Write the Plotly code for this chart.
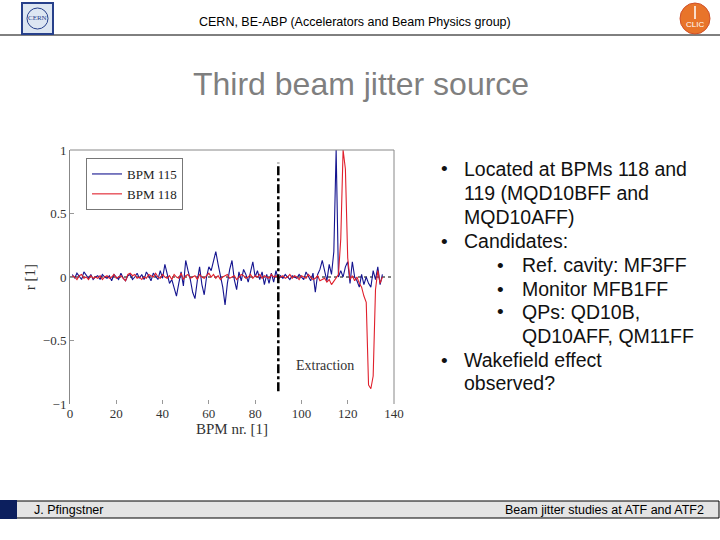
import plotly.graph_objects as go

# ---------------- data ----------------
bpm = list(range(1, 136))

bpm115 = [
    0.02, -0.01, 0.03, 0.00, -0.02, 0.04, 0.01, -0.01, 0.02, -0.02,
    0.00, 0.01, -0.02, 0.02, 0.00, -0.01, 0.01, -0.03, 0.02, 0.00,
    -0.02, 0.03, -0.01, -0.03, 0.01, 0.02, -0.02, 0.00, 0.03, -0.01,
    0.02, -0.02, 0.04, 0.01, -0.03, 0.03, 0.00, -0.02, 0.05, -0.01,
    0.10, 0.02, -0.05, -0.02, -0.08, -0.15, -0.05, 0.04, -0.07, 0.13,
    0.05, -0.02, -0.12, -0.17, -0.03, 0.08, -0.06, -0.14, 0.00, 0.08,
    0.05, 0.12, 0.20, 0.10, 0.02, -0.08, -0.22, -0.05, 0.06, 0.13,
    -0.02, -0.10, 0.04, -0.03, 0.06, 0.02, -0.04, 0.03, 0.12, 0.00,
    0.05, -0.02, 0.04, -0.06, 0.02, -0.05, 0.03, -0.04, 0.05, -0.02,
    0.01, -0.01, 0.02, 0.00, -0.02, 0.01, 0.00, -0.01, 0.02, 0.00,
    -0.02, 0.04, 0.01, -0.03, 0.03, -0.12, 0.02, 0.06, 0.13, 0.04,
    -0.03, 0.10, 0.02, 0.20, 1.00, 0.00, 0.05, 0.00, 0.08, 0.12,
    -0.05, 0.12, 0.00, -0.03, -0.08, 0.02, -0.06, 0.00, -0.05, -0.08,
    0.05, -0.02, 0.08, -0.06, 0.02,
]

bpm118 = [
    0.01, 0.00, -0.02, 0.01, 0.02, -0.01, 0.00, -0.02, 0.01, -0.01,
    0.00, -0.01, 0.01, -0.02, 0.00, 0.01, -0.01, 0.00, 0.02, -0.01,
    0.00, 0.01, -0.01, -0.03, 0.02, 0.03, 0.01, 0.02, -0.01, 0.00,
    -0.02, 0.00, -0.01, 0.02, 0.01, 0.00, 0.03, 0.00, -0.01, 0.02,
    0.00, -0.01, 0.01, -0.02, 0.02, 0.00, -0.01, 0.03, -0.02, 0.01,
    0.02, -0.01, 0.00, 0.01, -0.02, 0.02, 0.00, -0.01, 0.01, 0.03,
    0.00, 0.02, -0.01, 0.01, -0.02, 0.00, 0.01, 0.02, -0.01, 0.00,
    0.01, -0.02, 0.00, 0.02, 0.01, -0.01, 0.00, 0.02, -0.01, 0.01,
    0.00, 0.02, -0.01, 0.01, 0.00, -0.01, 0.02, 0.00, 0.01, -0.01,
    0.00, 0.01, -0.01, 0.00, 0.02, -0.01, 0.01, 0.00, -0.02, 0.01,
    0.00, -0.01, 0.02, 0.00, -0.02, -0.01, 0.01, -0.03, -0.02, -0.01,
    -0.04, -0.02, -0.06, -0.03, 0.00, 0.02, 0.30, 1.00, 0.85, 0.15,
    -0.02, 0.01, -0.03, 0.00, -0.05, -0.08, -0.15, -0.20, -0.85, -0.88,
    -0.78, -0.10, 0.05, -0.05, 0.00,
]

series_names = ["BPM 115", "BPM 118"]
extraction_bpm = 90
x_ticks = [0, 20, 40, 60, 80, 100, 120, 140]
y_ticks = [-1, -0.5, 0, 0.5, 1]

bullets = [
    (1, "•", "Located at BPMs 118 and"),
    (0, "", "119 (MQD10BFF and"),
    (0, "", "MQD10AFF)"),
    (1, "•", "Candidates:"),
    (2, "•", "Ref. cavity: MF3FF"),
    (2, "•", "Monitor MFB1FF"),
    (2, "•", "QPs: QD10B,"),
    (0, "", "QD10AFF, QM11FF"),
    (1, "•", "Wakefield effect"),
    (0, "", "observed?"),
]

# ---------------- figure ----------------
W, H = 720, 540
def px(x):
    return x / W
def py(y):
    return 1 - y / H

SERIF = "Liberation Serif, Times New Roman, serif"
SANS = "Liberation Sans, Arial, sans-serif"
NARROW = "Liberation Sans Narrow, Arial Narrow, Liberation Sans, sans-serif"

fig = go.Figure()
fig.add_trace(go.Scatter(x=bpm, y=bpm115, mode="lines", name=series_names[0],
                         line=dict(color="#14148f", width=1.1)))
fig.add_trace(go.Scatter(x=bpm, y=bpm118, mode="lines", name=series_names[1],
                         line=dict(color="#e0202c", width=1.1)))

x0p, x1p, y0p, y1p = 70, 394, 150, 404

fig.update_layout(
    width=W, height=H,
    margin=dict(l=0, r=0, t=0, b=0, autoexpand=False),
    paper_bgcolor="white", plot_bgcolor="white",
    showlegend=True,
    legend=dict(x=px(86), y=py(158), xanchor="left", yanchor="top",
                bgcolor="white", bordercolor="#777", borderwidth=1,
                font=dict(family=SERIF, size=13, color="#222"),
                tracegroupgap=0, itemwidth=30),
    xaxis=dict(domain=[px(x0p), px(x1p)], range=[0, 140], automargin=False,
               tickvals=x_ticks, ticks="inside", ticklen=4, tickcolor="#999",
               showgrid=False, zeroline=False, showline=False,
               tickfont=dict(family=SERIF, size=13, color="#333"),
               title=dict(text="BPM nr. [1]", font=dict(family=SERIF, size=15, color="#333"),
                          standoff=2)),
    yaxis=dict(domain=[py(y1p), py(y0p)], range=[-1, 1], automargin=False,
               tickvals=y_ticks, ticktext=["−1", "−0.5", "0", "0.5", "1"],
               ticks="inside", ticklen=4, tickcolor="#999",
               showgrid=False, zeroline=False, showline=True, linecolor="#888", linewidth=1,
               tickfont=dict(family=SERIF, size=13, color="#333"),
               title=dict(text="r [1]", font=dict(family=SERIF, size=15, color="#333"),
                          standoff=3)),
)

shapes = []
# plot frame: top and right
shapes.append(dict(type="line", xref="paper", yref="paper", x0=px(x0p), x1=px(x1p),
                   y0=py(y0p), y1=py(y0p), line=dict(color="#888", width=1)))
shapes.append(dict(type="line", xref="paper", yref="paper", x0=px(x1p), x1=px(x1p),
                   y0=py(y0p), y1=py(y1p), line=dict(color="#888", width=1)))
# zero dotted line
shapes.append(dict(type="line", xref="x", yref="y", x0=0, x1=140, y0=0, y1=0,
                   line=dict(color="black", width=1, dash="dot"), layer="below"))
# extraction line
shapes.append(dict(type="line", xref="x", yref="y", x0=extraction_bpm, x1=extraction_bpm,
                   y0=-0.9, y1=0.9, line=dict(color="black", width=2.5, dash="dashdot")))
# header line
shapes.append(dict(type="line", xref="paper", yref="paper", x0=0, x1=1,
                   y0=py(35), y1=py(35), line=dict(color="black", width=1)))
# footer bar
shapes.append(dict(type="rect", xref="paper", yref="paper", x0=px(0), x1=px(719),
                   y0=py(518), y1=py(501), fillcolor="#e4e4e4",
                   line=dict(color="black", width=1)))
shapes.append(dict(type="rect", xref="paper", yref="paper", x0=px(0), x1=px(17),
                   y0=py(519), y1=py(500), fillcolor="#0c1f5e", line=dict(width=0)))
# CERN logo
shapes.append(dict(type="rect", xref="paper", yref="paper", x0=px(22), x1=px(53),
                   y0=py(34), y1=py(3), fillcolor="#dde6f2",
                   line=dict(color="#27408b", width=2)))
shapes.append(dict(type="circle", xref="paper", yref="paper", x0=px(27), x1=px(48),
                   y0=py(29), y1=py(8), line=dict(color="#27408b", width=1)))
# CLIC logo
shapes.append(dict(type="circle", xref="paper", yref="paper", x0=px(680), x1=px(710),
                   y0=py(34), y1=py(3), fillcolor="#e8742a",
                   line=dict(color="#d0502a", width=1)))
shapes.append(dict(type="line", xref="paper", yref="paper", x0=px(695), x1=px(695),
                   y0=py(19), y1=py(6), line=dict(color="white", width=1.5)))
fig.update_layout(shapes=shapes)

def pann(x, y, text, font, xanchor="center"):
    return dict(x=px(x), y=py(y), xref="paper", yref="paper", xanchor=xanchor,
                yanchor="middle", text=text, showarrow=False, font=font)

ann = []
ann.append(dict(x=110, y=-0.70, xref="x", yref="y", text="Extraction", showarrow=False,
                xanchor="center", yanchor="middle",
                font=dict(family=SERIF, size=14, color="#333")))
ann.append(pann(355, 22, "CERN, BE-ABP (Accelerators and Beam Physics group)",
                dict(family=NARROW, size=12.5, color="black")))
ann.append(pann(361, 84, "Third beam jitter source",
                dict(family=SANS, size=32, color="#7f7f7f")))
ann.append(pann(32, 510, "J. Pfingstner", dict(family=NARROW, size=12.5, color="black"),
                xanchor="left"))
ann.append(pann(706, 510, "Beam jitter studies at ATF and ATF2",
                dict(family=NARROW, size=12.5, color="black"), xanchor="right"))
ann.append(pann(37.5, 18.5, "CERN", dict(family=SERIF, size=7, color="#27408b")))
ann.append(pann(695, 25, "CLIC", dict(family=SANS, size=8, color="white")))

line_y = [169, 193, 217, 241, 265, 289, 312, 336, 360, 383]
text_x = {1: 462, 2: 520}
bullet_x = {1: 444, 2: 500}
prev_level = 1
for (lvl, b, t), yy in zip(bullets, line_y):
    if lvl == 0:
        tx = text_x[prev_level]
    else:
        tx = text_x[lvl]
        prev_level = lvl
        ann.append(pann(bullet_x[lvl], yy, b, dict(family=SANS, size=19, color="#111")))
    ann.append(pann(tx, yy, t, dict(family=SANS, size=19.5, color="#111"), xanchor="left"))
fig.update_layout(annotations=ann)

fig.write_html("out.html", config={"displayModeBar": False},
               post_script="document.body.style.margin='0';document.body.style.padding='0';")
